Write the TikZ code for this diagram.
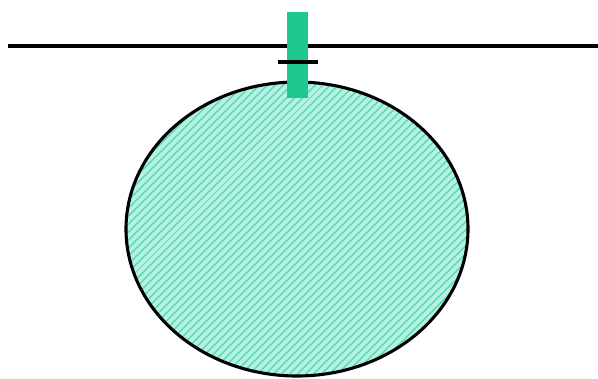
\documentclass[tikz,border=0pt]{standalone}
\usetikzlibrary{patterns.meta}
\definecolor{cmint}{HTML}{B4F2E2}
\definecolor{chatch}{HTML}{62D6B8}
\definecolor{cbar}{HTML}{1DC98F}
\tikzset{
  every picture/.style={line width=2pt, x=0.025cm, y=-0.025cm},
  blob/.style={fill=cmint, postaction={pattern={Lines[angle=45, distance=4pt, line width=1.1pt]}, pattern color=chatch}},
  stem/.style={fill=cbar, draw=none},
  rim/.style={draw=black, line width=2.2pt},
}
\begin{document}
\begin{tikzpicture}
  \useasboundingbox (0,0) rectangle (598,378);
  % surface line
  \draw[rim] (8,46) -- (598,46);
  % the bubble
  \fill[blob] (297,229) ellipse [x radius=171, y radius=147];
  \draw[rim] (297,229) ellipse [x radius=171, y radius=147];
  % stem and collar
  \fill[stem] (287,12) rectangle (308,98);
  \draw[rim] (278,62) -- (318,62);
\end{tikzpicture}
\end{document}
